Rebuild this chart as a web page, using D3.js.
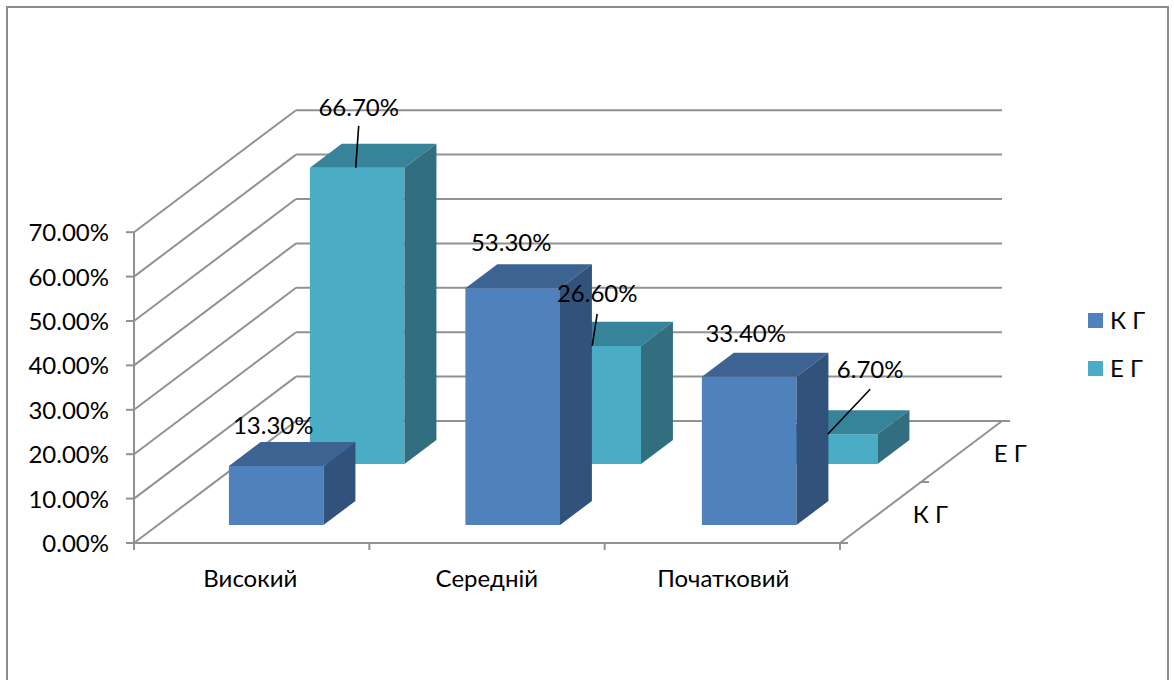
<!DOCTYPE html>
<html>
<head>
<meta charset="utf-8">
<script src="https://cdn.jsdelivr.net/npm/d3@7"></script>
<style>
  html, body { margin: 0; padding: 0; background: #fff; overflow: hidden; }
  svg { display: block; }
  text { font-family: Lato, "Open Sans", sans-serif; fill: #000; }
</style>
</head>
<body>
<svg id="chart" width="1174" height="680"></svg>
<script>
// Levels and percentages per group
const categories = ["Високий", "Середній", "Початковий"];
const seriesNames = ["К Г", "Е Г"];
const kgValues = [13.3, 53.3, 33.4];
const egValues = [66.7, 26.6, 6.7];
const valueTicks = [0, 10, 20, 30, 40, 50, 60, 70];

const svg = d3.select("#chart");
const fontSize = 24;
const gridColor = "#929292";
const palette = {
  "К Г": { front: "#4F81BD", top: "#3D6392", side: "#31527B" },
  "Е Г": { front: "#4BACC6", top: "#378399", side: "#316E80" }
};

// Oblique projection: x along categories, y up by value, d into the page (0..1)
const depthDx = 162, depthDy = -122;
const axisX = d3.scaleLinear().domain([0, categories.length]).range([134, 840]);
const x = d3.scaleBand().domain(categories).range([134.05, 843.55]).paddingInner(0.6).paddingOuter(0.3);
const y = d3.scaleLinear().domain([0, 70]).range([543, 232.2]);
const depth = d3.scaleBand().domain(seriesNames).range([-0.004, 0.996]).paddingInner(0.606).paddingOuter(0.303);
const project = (px, value, d) => [px + d * depthDx, y(value) + d * depthDy];
const poly = pts => pts.map(p => p.join(",")).join(" ");

// Outer frame of the chart area
svg.append("path")
  .attr("d", "M7,681V7H1168V681")
  .attr("fill", "none").attr("stroke", "#8c8c8c").attr("stroke-width", 2);

const walls = svg.append("g").attr("fill", "none").attr("stroke", gridColor).attr("stroke-width", 2);
const line = (a, b) => walls.append("line")
  .attr("x1", a[0]).attr("y1", a[1]).attr("x2", b[0]).attr("y2", b[1]);

// Side wall and back wall gridlines with value ticks
valueTicks.forEach(t => {
  line(project(134, t, 0), project(134, t, 1));
  line(project(134, t, 1), project(840, t, 1));
  line([126, y(t)], [134, y(t)]);
});
// Vertical axis, floor edges and their tick marks
line(project(134, 0, 0), project(134, 70, 0));
line(project(134, 0, 0), project(840, 0, 0));
line(project(840, 0, 0), project(840, 0, 1));
line(project(840, 0, 1), [1010, y(0) + depthDy]);
line(project(840, 0, 0), [848, y(0)]);
line(project(840, 0, 0.5), [project(840, 0, 0.5)[0] + 8, project(840, 0, 0.5)[1]]);
d3.range(categories.length + 1).forEach(i => line([axisX(i), y(0)], [axisX(i), y(0) + 7]));

// 3D bars, far series first so the near one overlaps it
const records = seriesNames.flatMap((s, si) =>
  categories.map((c, ci) => ({ series: s, category: c, value: (si === 0 ? kgValues : egValues)[ci] })));
const drawOrder = [...seriesNames].reverse();
drawOrder.forEach(s => {
  const g = svg.append("g");
  records.filter(r => r.series === s).forEach(r => {
    const x0 = x(r.category), x1 = x0 + x.bandwidth();
    const d0 = depth(s), d1 = d0 + depth.bandwidth();
    const col = palette[s];
    g.append("polygon").attr("fill", col.front)
      .attr("points", poly([project(x0, 0, d0), project(x1, 0, d0), project(x1, r.value, d0), project(x0, r.value, d0)]));
    g.append("polygon").attr("fill", col.top)
      .attr("points", poly([project(x0, r.value, d0), project(x1, r.value, d0), project(x1, r.value, d1), project(x0, r.value, d1)]));
    g.append("polygon").attr("fill", col.side)
      .attr("points", poly([project(x1, 0, d0), project(x1, 0, d1), project(x1, r.value, d1), project(x1, r.value, d0)]));
  });
});

// Data labels, placed relative to the middle of each bar's top front edge
const labelPlacement = {
  "К Г|Високий": { dx: -3, dy: -32 },
  "К Г|Середній": { dx: -1.5, dy: -37 },
  "К Г|Початковий": { dx: -3.5, dy: -35 },
  "Е Г|Високий": { dx: 1.5, dy: -52, lead: [1.5, -42, -1.5, 0] },
  "Е Г|Середній": { dx: 3.5, dy: -44, lead: [3.5, -32, -1.5, 0] },
  "Е Г|Початковий": { dx: 40, dy: -56, lead: [40, -45, -2.5, 0] }
};
const labels = svg.append("g");
records.forEach(r => {
  const [ax, ay] = project(x(r.category) + x.bandwidth() / 2, r.value, depth(r.series));
  const place = labelPlacement[r.series + "|" + r.category];
  if (place.lead) {
    labels.append("line")
      .attr("x1", ax + place.lead[0]).attr("y1", ay + place.lead[1])
      .attr("x2", ax + place.lead[2]).attr("y2", ay + place.lead[3])
      .attr("stroke", "#000").attr("stroke-width", 1.6);
  }
  labels.append("text")
    .attr("x", ax + place.dx).attr("y", ay + place.dy)
    .attr("text-anchor", "middle").attr("font-size", fontSize)
    .text(r.value.toFixed(2) + "%");
});

// Axis text
const axisText = svg.append("g").attr("font-size", fontSize);
valueTicks.forEach(t => {
  axisText.append("text").attr("x", 109).attr("y", y(t) + 9)
    .attr("text-anchor", "end").text(t.toFixed(2) + "%");
});
categories.forEach(c => {
  axisText.append("text").attr("x", x(c) + x.bandwidth() / 2 - 2).attr("y", 587)
    .attr("text-anchor", "middle").text(c);
});
seriesNames.forEach(s => {
  const p = project(840, 0, depth(s) + depth.bandwidth() / 2);
  axisText.append("text").attr("x", p[0] + 33).attr("y", p[1] + 10).text(s);
});

// Legend
const legend = svg.append("g").attr("font-size", fontSize);
seriesNames.forEach((s, i) => {
  legend.append("rect").attr("x", 1088).attr("y", 313 + i * 48).attr("width", 15).attr("height", 15)
    .attr("fill", palette[s].front);
  legend.append("text").attr("x", 1110).attr("y", 329 + i * 48).text(s);
});
</script>
</body>
</html>
